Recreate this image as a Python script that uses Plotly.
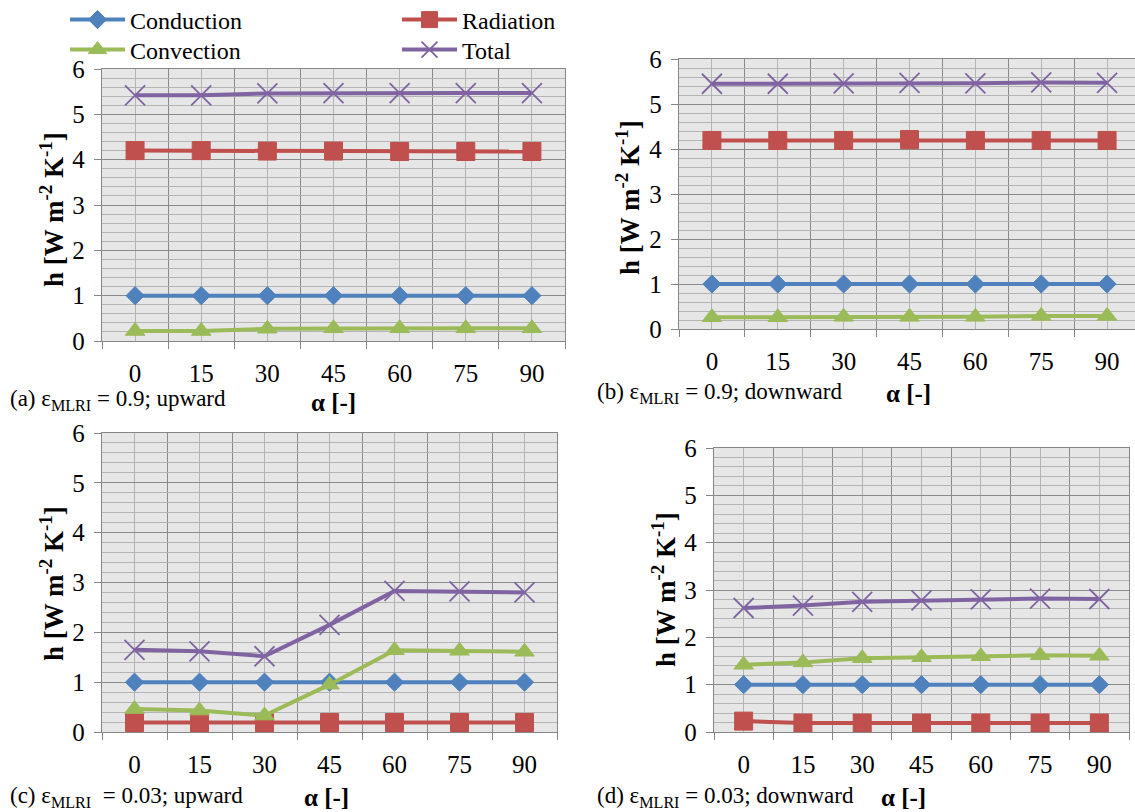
import plotly.graph_objects as go

angles = ["0", "15", "30", "45", "60", "75", "90"]
series_names = ["Conduction", "Radiation", "Convection", "Total"]

# (a) eps = 0.9, upward
a_conduction = [1.0, 1.0, 1.0, 1.0, 1.0, 1.0, 1.0]
a_radiation = [4.2, 4.2, 4.19, 4.19, 4.18, 4.18, 4.18]
a_convection = [0.22, 0.22, 0.27, 0.28, 0.28, 0.28, 0.28]
a_total = [5.42, 5.42, 5.46, 5.47, 5.47, 5.47, 5.47]

# (b) eps = 0.9, downward
b_conduction = [1.0, 1.0, 1.0, 1.0, 1.0, 1.0, 1.0]
b_radiation = [4.19, 4.19, 4.19, 4.21, 4.19, 4.19, 4.19]
b_convection = [0.26, 0.26, 0.27, 0.27, 0.27, 0.29, 0.29]
b_total = [5.45, 5.45, 5.46, 5.47, 5.46, 5.48, 5.47]

# (c) eps = 0.03, upward
c_conduction = [1.0, 1.0, 1.0, 1.0, 1.0, 1.0, 1.0]
c_radiation = [0.19, 0.19, 0.19, 0.19, 0.19, 0.19, 0.19]
c_convection = [0.46, 0.43, 0.33, 0.95, 1.64, 1.63, 1.61]
c_total = [1.65, 1.62, 1.52, 2.15, 2.83, 2.82, 2.80]

# (d) eps = 0.03, downward
d_conduction = [1.0, 1.0, 1.0, 1.0, 1.0, 1.0, 1.0]
d_radiation = [0.23, 0.19, 0.19, 0.19, 0.19, 0.19, 0.19]
d_convection = [1.42, 1.47, 1.56, 1.58, 1.60, 1.62, 1.61]
d_total = [2.62, 2.67, 2.75, 2.78, 2.80, 2.82, 2.81]

panels = [
    (a_conduction, a_radiation, a_convection, a_total),
    (b_conduction, b_radiation, b_convection, b_total),
    (c_conduction, c_radiation, c_convection, c_total),
    (d_conduction, d_radiation, d_convection, d_total),
]

colors = ["#4F81BD", "#C0504D", "#9BBB59", "#8064A2"]
symbols = ["diamond", "square", "triangle-up", "x-thin-open"]
msizes = [14, 18, 17, 20]
mlw = [1, 1, 1, 1.8]
legend_of = ["legend", "legend", "legend2", "legend2"]

W, H = 1135, 812
FONT = "Times New Roman"

# plot-area boxes in pixels: x0, x1, ytop(6), ybottom(0)
boxes = [
    (102, 565, 69, 341),
    (679, 1135, 59, 329),
    (102, 557, 433, 732),
    (714, 1129, 448, 732),
]
x_idx = list(range(len(angles)))

fig = go.Figure()

for p, (vals, box) in enumerate(zip(panels, boxes)):
    sfx = "" if p == 0 else str(p + 1)
    for s in range(4):
        fig.add_trace(go.Scatter(
            x=x_idx, y=vals[s], mode="lines+markers",
            name=series_names[s], showlegend=(p == 0), legend=legend_of[s],
            line=dict(color=colors[s], width=4),
            marker=dict(symbol=symbols[s], size=msizes[s], color=colors[s],
                        line=dict(color=colors[s], width=mlw[s])),
            xaxis="x" + sfx, yaxis="y" + sfx,
        ))
    x0, x1, yt, yb = box
    xr = [-0.5, 6.5]
    if p == 1:
        full_w = 1140 - x0
        xr = [-0.5, -0.5 + 7 * (x1 - x0) / full_w]
    xa = dict(
        domain=[x0 / W, x1 / W], range=xr, anchor="y" + sfx,
        tickmode="array", tickvals=x_idx, ticktext=angles,
        ticks="", showgrid=True, gridcolor="#b4b4b4", gridwidth=1.3,
        showline=True, linecolor="#868686", linewidth=1.3, mirror=True,
        tickfont=dict(family=FONT, size=25, color="black"),
        zeroline=False, automargin=False,
        minor=dict(tickvals=[i + 0.5 for i in range(-1, 7)], showgrid=True,
                   gridcolor="#8a8a8a", gridwidth=1.3, ticks="outside",
                   ticklen=7, tickcolor="#868686", tickwidth=1.3),
        ticklabelstandoff=10,
    )
    ya = dict(
        domain=[1 - yb / H, 1 - yt / H], range=[0, 6], anchor="x" + sfx,
        tickmode="linear", tick0=0, dtick=1,
        ticks="outside", ticklen=7, tickcolor="#868686", tickwidth=1.3,
        showgrid=True, gridcolor="#8a8a8a", gridwidth=1.3,
        showline=True, linecolor="#868686", linewidth=1.3,
        mirror=(p != 1),
        tickfont=dict(family=FONT, size=25, color="black"),
        zeroline=False, automargin=False,
        minor=dict(dtick=0.2, tick0=0, showgrid=True, gridcolor="#b4b4b4",
                   gridwidth=1.3, ticks=""),
        ticklabelstandoff=4,
    )
    fig.layout["xaxis" + sfx] = xa
    fig.layout["yaxis" + sfx] = ya

ytitle = "h [W m<sup>-2</sup> K<sup>-1</sup>]"
captions = [
    ("(a) ε<sub>MLRI</sub> = 0.9; upward", 8, 400, 333, 403, 52, 210),
    ("(b) ε<sub>MLRI</sub> = 0.9; downward", 595, 393, 908, 393, 628, 198),
    ("(c) ε<sub>MLRI</sub>  = 0.03; upward", 8, 797, 327, 797, 52, 584),
    ("(d) ε<sub>MLRI</sub> = 0.03; downward", 595, 797, 903, 797, 664, 590),
]
ann = []
for text, cx, cy, ax_, ay_, tx, ty in captions:
    ann.append(dict(text=text, x=cx / W, y=1 - cy / H, xref="paper", yref="paper",
                    xanchor="left", yanchor="middle", showarrow=False,
                    font=dict(family=FONT, size=23, color="black")))
    ann.append(dict(text="<b>α [-]</b>", x=ax_ / W, y=1 - ay_ / H, xref="paper",
                    yref="paper", xanchor="center", yanchor="middle", showarrow=False,
                    font=dict(family=FONT, size=25, color="black")))
    ann.append(dict(text="<b>" + ytitle + "</b>", x=tx / W, y=1 - ty / H,
                    xref="paper", yref="paper", xanchor="center", yanchor="middle",
                    textangle=-90, showarrow=False,
                    font=dict(family=FONT, size=27, color="black")))

legend_common = dict(orientation="h", xanchor="left", yanchor="middle",
                     itemwidth=55, bgcolor="rgba(0,0,0,0)", tracegroupgap=0,
                     entrywidth=262, entrywidthmode="pixels",
                     traceorder="normal",
                     font=dict(family=FONT, size=24, color="black"))

fig.update_layout(
    width=W, height=H, margin=dict(l=0, r=0, t=0, b=0, autoexpand=False),
    paper_bgcolor="white", plot_bgcolor="#e6e6e6",
    annotations=ann,
    showlegend=True,
    legend=dict(x=65 / W, y=1 - 20 / H, **legend_common),
    legend2=dict(x=65 / W, y=1 - 50 / H, **legend_common),
)

fig.write_html("out.html", config={"displayModeBar": False},
               post_script="document.body.style.margin='0px';")
